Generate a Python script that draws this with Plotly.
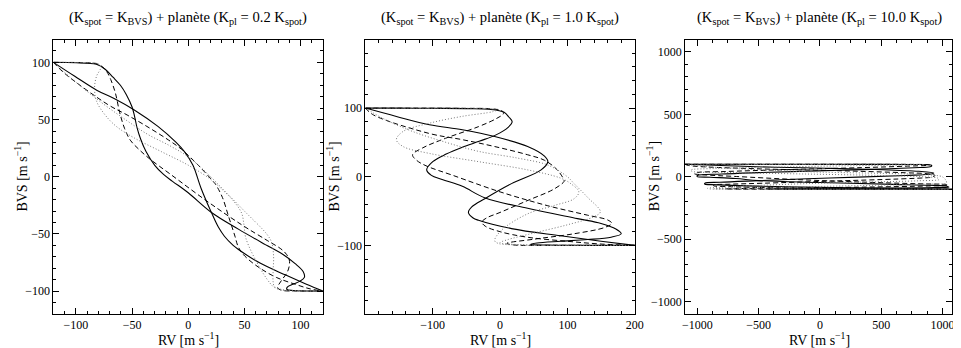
import plotly.graph_objects as go

# BVS levels along each branch (shared by the three panels)
bvs_sol_a = [100, 99.9, 99.7, 99.2, 98.3, 94, 87, 80, 72, 61, 52, 43, 33, 22, 10, 2, -4, -14, -31, -46,
             -61, -68, -76, -83, -88, -91.5, -94, -96.5, -98.5, -99.5, -99.9, -100]
bvs_sol_b = [100, 87.8, 75.7, 68.4, 58.6, 44, 30, 22, 10, -10, -31.6, -44, -52, -60, -63.4, -75.5, -86, -94, -100]
bvs_das_a = [100, 99.95, 99.9, 99.6, 99, 96, 92, 85, 73, 56, 42, 32, 24, 16, 2, -22, -42, -56, -63, -68,
             -74, -83, -91, -97, -99.3, -99.8, -99.95, -100]
bvs_das_b = [100, 90, 63, 54, 44, 32, 24, 10, -5, -7, -18, -35, -52, -60, -66, -72, -80, -88, -94, -98, -100]
bvs_dot_a = [100, 99.95, 99.9, 99.8, 99.3, 98, 95, 88, 78, 66, 54, 44, 34, 22, 10, -2, -10, -22, -32, -42,
             -54, -78, -93, -97, -99.3, -99.8, -100]
bvs_dot_b = [100, 85, 66, 50, 37, 27, 17, 0, -10, -30, -51, -58, -70, -82, -92, -96, -99, -99.8, -100]

# RV, panel 1 (Kpl = 0.2 Kspot)
rv1_sol_a = [-120, -109.9, -99.8, -89.4, -81.8, -74, -67, -60.4, -55.2, -50, -47.6, -45.6, -42.4, -37.6, -29.8,
             -22, -14, 0, 20.4, 45, 71.8, 84.4, 95.2, 102.4, 103.4, 99.2, 93.2, 88.2, 87.8, 93.6, 105.9, 120]
rv1_sol_b = [-120, -101, -81.5, -66, -48.4, -27, -10.8, -3.4, 4.2, 11.4, 20.8, 26.8, 32.2, 40, 44.4, 63.9,
             86.8, 105.2, 120]
rv1_das_a = [-120, -110, -99.9, -89.7, -82.2, -76.2, -72.6, -69, -64.8, -61, -56.6, -51.6, -44, -34.8, -15.6,
             17.6, 47.6, 70.8, 82.4, 87.6, 90.2, 88.4, 82.8, 79.6, 83.4, 95.8, 110, 120]
rv1_das_b = [-120, -109.6, -71.4, -54.4, -36.8, -17.4, -6, 9, 23, 24.6, 30.4, 36, 41.6, 44, 47.4, 53.2, 64,
             78.4, 95.2, 108.4, 120]
rv1_dot_a = [-120, -110, -99.9, -89.8, -82.4, -79, -78, -81.6, -83.4, -81.6, -74, -64, -48.2, -24, 0.2, 19.6,
             29, 41, 47.6, 49.6, 51.4, 62.8, 72.8, 77, 85.4, 99.8, 120]
rv1_dot_b = [-120, -102.8, -78.8, -56, -36, -16.2, 0.6, 20, 30, 50, 70.6, 74.4, 76, 75.6, 75.6, 76.8, 85.2,
             99.8, 120]

# RV, panel 2 (Kpl = 1.0 Kspot)
rv2_sol_a = [-200, -150, -100, -50, -16, 6, 13, 18, 12, -6, -30, -56, -80, -100, -109, -102, -86, -56, -22, 41,
             115, 150, 172, 180, 165, 130, 90, 55, 45, 70, 130, 200]
rv2_sol_b = [-200, -154, -105, -56, -8, 41, 66, 71, 61, 17, -22, -42, -47, -40, -32, 17, 90, 150, 200]
rv2_das_a = [-200, -150, -100, -50, -15, 3, 5, -5, -32, -81, -115, -130, -124, -110, -70, 0, 70, 130, 160, 166,
             155, 110, 50, 10, 20, 80, 150, 200]
rv2_das_b = [-200, -188, -105, -56, -8, 41, 66, 85, 95, 95, 80, 40, 0, -20, -27, -22, 0, 40, 100, 150, 200]
rv2_dot_a = [-200, -150, -100, -50, -15, -3, -10, -56, -105, -144, -154, -144, -105, -32, 41, 90, 105, 117, 110,
             80, 41, 2, -8, -3, 30, 100, 200]
rv2_dot_b = [-200, -174, -130, -80, -32, 27, 71, 100, 110, 130, 149, 140, 100, 50, 10, 0, 30, 100, 200]

# RV, panel 3 (Kpl = 10.0 Kspot)
rv3_sol_a = [-1100, -601, -103, 393, 725, 906, 913, 900, 768, 489, 168, -173, -503, -802, -1000, -1002, -896,
             -686, -499, -4, 601, 888, 1036, 1053, 858, 477, 54, -319, -437, -196, 400, 1100]
rv3_sol_b = [-1100, -748, -366, 52, 451, 806, 930, 908, 700, 80, -508, -816, -938, -940, -887, -505, 126, 654,
             1100]
rv3_das_a = [-1100, -600, -101, 396, 741, 894, 878, 715, 337, -306, -772, -1012, -1024, -956, -682, -198, 322,
             796, 1033, 1048, 884, 353, -319, -773, -694, -98, 600, 1100]
rv3_das_b = [-1100, -1070, -483, -74, 316, 698, 876, 940, 905, 887, 638, 85, -468, -740, -864, -868, -720, -392,
             154, 618, 1100]
rv3_dot_a = [-1100, -600, -101, 398, 744, 852, 755, 232, -348, -846, -1054, -1044, -744, -122, 500, 882, 960,
             972, 812, 422, -76, -682, -917, -903, -594, 102, 1100]
rv3_dot_b = [-1100, -975, -706, -350, 13, 513, 863, 1000, 1010, 1030, 1031, 878, 370, -238, -728, -864, -591,
             102, 1100]

titles = ["(K<sub>spot</sub> = K<sub>BVS</sub>) + planète (K<sub>pl</sub> = 0.2 K<sub>spot</sub>)",
          "(K<sub>spot</sub> = K<sub>BVS</sub>) + planète (K<sub>pl</sub> = 1.0 K<sub>spot</sub>)",
          "(K<sub>spot</sub> = K<sub>BVS</sub>) + planète (K<sub>pl</sub> = 10.0 K<sub>spot</sub>)"]

FONT = "Liberation Serif, Times New Roman, serif"
# the page puts the figure 8 px in from the window corner
OFF = 8
W, H = 961 - OFF, 348 - OFF

panels = [
    [rv1_sol_a, rv1_sol_b, rv1_das_a, rv1_das_b, rv1_dot_a, rv1_dot_b],
    [rv2_sol_a, rv2_sol_b, rv2_das_a, rv2_das_b, rv2_dot_a, rv2_dot_b],
    [rv3_sol_a, rv3_sol_b, rv3_das_a, rv3_das_b, rv3_dot_a, rv3_dot_b],
]
bvs_all = [bvs_sol_a, bvs_sol_b, bvs_das_a, bvs_das_b, bvs_dot_a, bvs_dot_b]
styles = [
    dict(color="black", width=1.1, dash="solid"),
    dict(color="black", width=1.1, dash="solid"),
    dict(color="black", width=1, dash="5px,3px"),
    dict(color="black", width=1, dash="5px,3px"),
    dict(color="#777777", width=1, dash="1px,2px"),
    dict(color="#777777", width=1, dash="1px,2px"),
]

fig = go.Figure()
for i, rvs in enumerate(panels):
    sfx = "" if i == 0 else str(i + 1)
    for rv, bvs, st in zip(rvs, bvs_all, styles):
        fig.add_trace(go.Scatter(x=rv, y=bvs, mode="lines", line=dict(shape="spline", smoothing=1.0, **st),
                                 xaxis="x" + sfx, yaxis="y" + sfx, showlegend=False, hoverinfo="skip"))

# plot areas in window pixels
xpix = [(51, 324), (367, 640), (690.7, 963.7)]
ytop, ybot = 39.5, 314
ydom = [(H - (ybot - OFF)) / H, (H - (ytop - OFF)) / H]
ranges = [([-120, 120], [-120, 120]), ([-199.9, 200.5], [-199.9, 199.9]), ([-1100, 1078], [-1100, 1100])]
ticks = [((50, 10), (50, 10)), ((100, 20), (100, 20)), ((500, 125), (500, 100))]


def axis(domain, rng, major, minor, anchor):
    return dict(domain=domain, range=rng, anchor=anchor, tick0=0, dtick=major,
                ticks="inside", ticklen=6, tickwidth=1, tickcolor="black",
                minor=dict(tick0=0, dtick=minor, ticks="inside", ticklen=3, tickwidth=1, tickcolor="black"),
                showline=True, linecolor="black", linewidth=1, mirror="allticks",
                showgrid=False, zeroline=False,
                tickfont=dict(family=FONT, size=12, color="black"))


layout = dict(width=W, height=H, margin=dict(l=0, r=0, t=0, b=0), plot_bgcolor="white",
              paper_bgcolor="white", font=dict(family=FONT, color="black"))
ann = []
for i in range(3):
    sfx = "" if i == 0 else str(i + 1)
    x0, x1 = xpix[i]
    xd = [(x0 - OFF) / W, min((x1 - OFF) / W, 1.0)]
    layout["xaxis" + sfx] = axis(xd, ranges[i][0], ticks[i][0][0], ticks[i][0][1], "y" + sfx)
    layout["yaxis" + sfx] = axis(ydom, ranges[i][1], ticks[i][1][0], ticks[i][1][1], "x" + sfx)
    xc = (x0 + x1) / 2 - OFF
    ann.append(dict(text=titles[i], x=xc / W, y=(H - (18 - OFF)) / H, xref="paper", yref="paper",
                    showarrow=False, xanchor="center", yanchor="middle",
                    font=dict(family=FONT, size=14.6, color="black")))
    ann.append(dict(text="RV [m s<sup>−1</sup>]", x=xc / W, y=(H - (339 - OFF)) / H, xref="paper",
                    yref="paper", showarrow=False, xanchor="center", yanchor="middle",
                    font=dict(family=FONT, size=14, color="black")))
    ann.append(dict(text="BVS [m s<sup>−1</sup>]", x=(x0 - 33 - OFF) / W, y=(H - (176.7 - OFF)) / H,
                    xref="paper", yref="paper", showarrow=False, xanchor="center", yanchor="middle",
                    textangle=-90, font=dict(family=FONT, size=14, color="black")))
layout["annotations"] = ann
fig.update_layout(**layout)

fig.write_html("out.html")
